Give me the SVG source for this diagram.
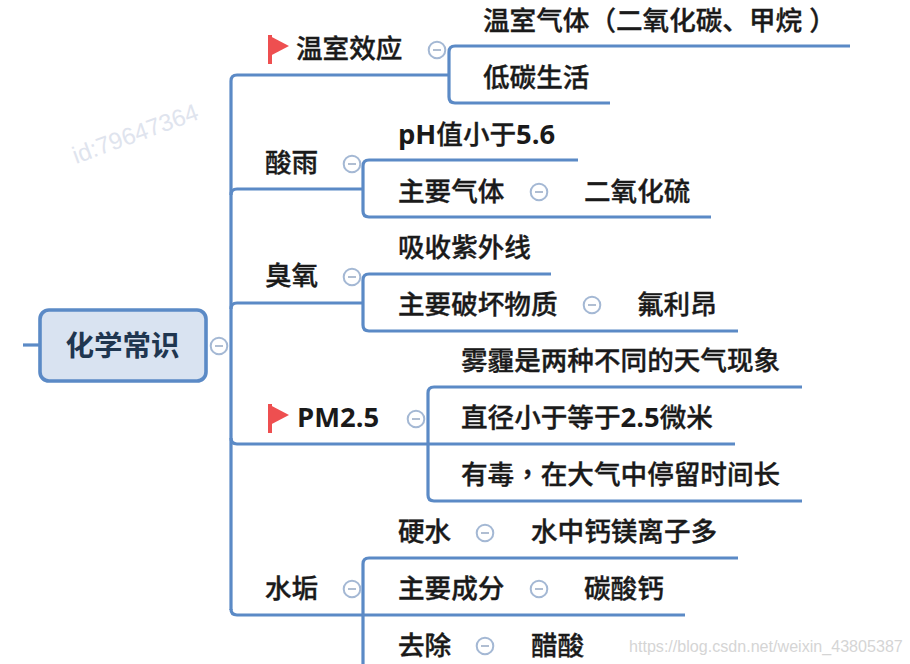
<svg xmlns="http://www.w3.org/2000/svg" width="910" height="664" viewBox="0 0 910 664">
<style>
text{font-family:"Noto Sans CJK SC","Noto Sans",sans-serif;font-size:26.6px;font-weight:500;fill:#1a1a1a;stroke:#1a1a1a;stroke-width:.35}
.lat{font-family:"Open Sans","Noto Sans CJK SC",sans-serif;font-weight:700;font-size:27.4px;stroke:none}
.wm{font-family:"Liberation Sans",sans-serif;font-weight:400;stroke:none}
.pn{font-family:"Noto Sans CJK TC",sans-serif}
.pk{font-family:"Noto Sans CJK KR",sans-serif}
.t{fill:none;stroke:#5b8ac6;stroke-width:3.2}
.col circle{fill:#fff;stroke:#a4b8d4;stroke-width:2}
.col line{stroke:#8fa3bf;stroke-width:1.4}
.flag{fill:#ee4f50}
.root{fill:#d9e3f1;stroke:#5b8ac6;stroke-width:3.6}
</style>
<defs>
<g id="minus" class="col"><circle r="8.3"/><line x1="-4" x2="4" y1="0" y2="0"/></g>
<g id="flag"><rect x="0" y="0" width="4" height="29" class="flag"/><path d="M0 0L21 11L0 22Z" class="flag"/></g>
</defs>
<text class="wm" x="76" y="164" transform="rotate(-20 76 164)" style="font-size:24px;fill:#dfe4ee">id:79647364</text>
<g id="connectors">
<path class="t" d="M23 345H40"/>
<path class="t" d="M231 610V81Q231 75 237 75H449"/>
<path class="t" d="M231 195Q231 189 237 189H363"/>
<path class="t" d="M231 309Q231 303 237 303H363"/>
<path class="t" d="M231 438Q231 444 237 444H428"/>
<path class="t" d="M231 609Q231 615 237 615H363"/>
<path class="t" d="M850 46H455Q449 46 449 52V97Q449 103 455 103H610"/>
<path class="t" d="M578 160H369Q363 160 363 166V211Q363 217 369 217H711"/>
<path class="t" d="M551 274H369Q363 274 363 280V325Q363 331 369 331H738"/>
<path class="t" d="M802 387H434Q428 387 428 393V495Q428 501 434 501H802"/><path class="t" d="M428 444H735"/>
<path class="t" d="M738 558H369Q363 558 363 564V664"/><path class="t" d="M363 615H685"/>
</g>
<g id="root"><rect class="root" x="40" y="310" width="166" height="71" rx="9"/><text x="65.5" y="356" style="font-size:28.5px;font-weight:700;fill:#1f3650;stroke:none">化学常识</text><use href="#minus" x="219" y="346"/></g>
<g id="n1"><use href="#flag" x="268" y="35"/><text x="296" y="58">温室效应</text><use href="#minus" x="437" y="50"/></g>
<g id="n1a"><text x="483" y="30">温室气体<tspan class="pk">（</tspan>二氧化碳、甲烷<tspan class="pk" dx="7">）</tspan></text></g>
<g id="n1b"><text x="483" y="87">低碳生活</text></g>
<g id="n2"><text x="265" y="172">酸雨</text><use href="#minus" x="352" y="164"/></g>
<g id="n2a"><text x="398" y="144"><tspan class="lat">pH</tspan>值小于<tspan class="lat">5.6</tspan></text></g>
<g id="n2b"><text x="398" y="201">主要气体</text><use href="#minus" x="539" y="192"/></g>
<g id="n2c"><text x="584" y="201">二氧化硫</text></g>
<g id="n3"><text x="265" y="285">臭氧</text><use href="#minus" x="352" y="277"/></g>
<g id="n3a"><text x="398" y="257">吸收紫外线</text></g>
<g id="n3b"><text x="398" y="314">主要破坏物质</text><use href="#minus" x="592" y="305"/></g>
<g id="n3c"><text x="637" y="314">氟利昂</text></g>
<g id="n4"><use href="#flag" x="268" y="404"/><text class="lat" x="297" y="427">PM2.5</text><use href="#minus" x="416" y="419"/></g>
<g id="n4a"><text x="461" y="370">雾霾是两种不同的天气现象</text></g>
<g id="n4b"><text x="461" y="427">直径小于等于<tspan class="lat">2.5</tspan>微米</text></g>
<g id="n4c"><text x="461" y="484">有毒<tspan class="pn">，</tspan>在大气中停留时间长</text></g>
<g id="n5"><text x="265" y="598">水垢</text><use href="#minus" x="352" y="589"/></g>
<g id="n5a"><text x="398" y="541">硬水</text><use href="#minus" x="485" y="533"/></g>
<g id="n5a1"><text x="531" y="541">水中钙镁离子多</text></g>
<g id="n5b"><text x="398" y="598">主要成分</text><use href="#minus" x="539" y="589"/></g>
<g id="n5b1"><text x="584" y="598">碳酸钙</text></g>
<g id="n5c"><text x="398" y="655">去除</text><use href="#minus" x="485" y="646"/></g>
<g id="n5c1"><text x="531" y="655">醋酸</text></g>
<text class="wm" x="629" y="652" style="font-size:16.1px;fill:#d5d5d5">https://blog.csdn.net/weixin_43805387</text>
</svg>
